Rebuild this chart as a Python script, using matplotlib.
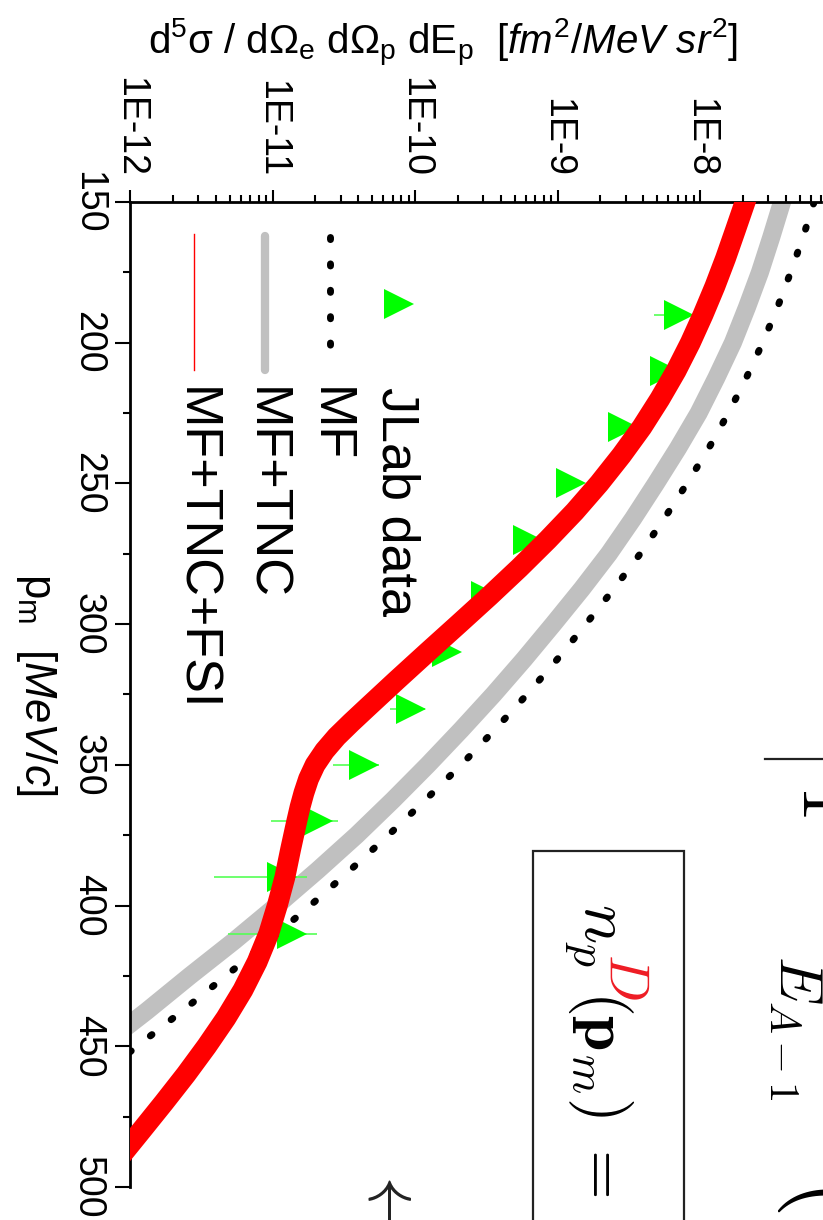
import numpy as np
import matplotlib
matplotlib.use("Agg")
import matplotlib.pyplot as plt
from matplotlib.lines import Line2D
from matplotlib.patches import Rectangle
from matplotlib.ticker import LogLocator, NullFormatter, MultipleLocator

plt.rcParams['font.family'] = ['Liberation Sans', 'DejaVu Sans']
plt.rcParams['mathtext.fontset'] = 'custom'
plt.rcParams['mathtext.rm'] = 'Liberation Sans'
plt.rcParams['mathtext.it'] = 'Liberation Sans:italic'
plt.rcParams['mathtext.bf'] = 'Liberation Sans:bold'

# missing momentum p_m [MeV/c] and cross sections [fm^2/MeV sr^2]
pm_mf = [150, 162.5, 175, 187.5, 200, 212.5, 225, 237.5, 250, 262.5, 275, 287.5, 300,
         312.5, 325, 337.5, 350, 362.5, 375, 387.5, 400, 412.5, 425, 437.5, 450,
         462.5, 475, 500]
xs_mf = [6.31e-8, 5.28e-8, 4.32e-8, 3.49e-8, 2.75e-8, 2.11e-8, 1.58e-8, 1.15e-8,
         8.1e-9, 5.6e-9, 3.8e-9, 2.48e-9, 1.58e-9, 9.95e-10, 6.1e-10, 3.63e-10,
         2.11e-10, 1.18e-10, 6.5e-11, 3.49e-11, 1.84e-11, 9.4e-12, 4.7e-12,
         2.32e-12, 1.12e-12, 5.5e-13, 2.6e-13, 6.3e-14]

pm_tnc = [150, 162.5, 175, 187.5, 200, 212.5, 225, 237.5, 250, 262.5, 275, 287.5, 300,
          312.5, 325, 337.5, 350, 362.5, 375, 387.5, 400, 412.5, 425, 437.5, 450,
          475, 500]
xs_tnc = [3.76e-8, 3.16e-8, 2.63e-8, 2.13e-8, 1.70e-8, 1.30e-8, 9.77e-9, 7.0e-9,
          4.9e-9, 3.39e-9, 2.29e-9, 1.48e-9, 9.33e-10, 5.82e-10, 3.55e-10, 2.11e-10,
          1.23e-10, 7.0e-11, 3.89e-11, 2.07e-11, 1.07e-11, 5.4e-12, 2.63e-12,
          1.31e-12, 6.3e-13, 1.6e-13, 4e-14]

pm_fsi = [150, 160, 170, 180, 190, 200, 210, 220, 230, 240, 250, 260, 270, 280, 290,
          300, 310, 320, 330, 335, 340, 345, 350, 355, 360, 365, 370, 380, 390, 400,
          410, 420, 430, 440, 450, 460, 470, 480, 490, 500]
xs_fsi = [2.07e-8, 1.77e-8, 1.51e-8, 1.27e-8, 1.05e-8, 8.55e-9, 6.79e-9, 5.22e-9,
          3.91e-9, 2.81e-9, 1.96e-9, 1.32e-9, 8.55e-10, 5.40e-10, 3.33e-10, 2.02e-10,
          1.22e-10, 7.41e-11, 4.54e-11, 3.56e-11, 2.82e-11, 2.32e-11, 1.99e-11,
          1.79e-11, 1.66e-11, 1.56e-11, 1.48e-11, 1.34e-11, 1.22e-11, 1.08e-11,
          9.4e-12, 7.8e-12, 6.2e-12, 4.71e-12, 3.45e-12, 2.47e-12, 1.73e-12,
          1.20e-12, 8.3e-13, 5.7e-13]

# JLab data
pm_data = [190, 210, 230, 250, 270, 290, 310, 330, 350, 370, 390, 410]
xs_data = [7.1e-9, 5.7e-9, 2.9e-9, 1.24e-9, 6.2e-10, 3.15e-10, 1.67e-10, 9.4e-11,
           4.4e-11, 2.1e-11, 1.16e-11, 1.37e-11]
xs_lo = [4.75e-9, 5.3e-9, 2.7e-9, 1.15e-9, 5.8e-10, 2.95e-10, 1.55e-10, 6.7e-11,
         2.65e-11, 9.8e-12, 3.9e-12, 4.9e-12]
xs_hi = [8.7e-9, 6.1e-9, 3.1e-9, 1.33e-9, 6.6e-10, 3.35e-10, 1.8e-10, 1.17e-10,
         5.6e-11, 2.9e-11, 1.75e-11, 2.05e-11]

xs_ticks = [1e-12, 1e-11, 1e-10, 1e-9, 1e-8]
xs_ticklabels = ['1E-12', '1E-11', '1E-10', '1E-9', '1E-8']
pm_ticks = [150, 200, 250, 300, 350, 400, 450, 500]
legend_labels = ['JLab data', 'MF', 'MF+TNC', 'MF+TNC+FSI']

W, H = 823, 1220
fig = plt.figure(figsize=(W / 100, H / 100), dpi=100)


def fx(x):
    return x / W


def fy(y):
    return 1 - y / H


ax = fig.add_axes([fx(130), fy(1187), fx(820.5) - fx(130), fy(202) - fy(1187)])
ax.set_xscale('log')
ax.set_xlim(1e-12, 7e-8)
ax.set_ylim(500, 150)

dots = (0, (0.3, 3.5))
ax.plot(xs_tnc, pm_tnc, color='#c0c0c0', lw=13, zorder=2)
ax.errorbar(xs_data, pm_data,
            xerr=[np.array(xs_data) - np.array(xs_lo), np.array(xs_hi) - np.array(xs_data)],
            fmt='>', ms=21.5, color='#00ff00', mew=0, ecolor='#55ff55',
            elinewidth=1.2, capsize=9, capthick=1.2, zorder=3)
ax.plot(xs_mf, pm_mf, color='black', lw=5, linestyle=dots,
        dash_capstyle='round', zorder=4)
ax.plot(xs_fsi, pm_fsi, color='red', lw=15, zorder=5)

# axes: only top (cross section) and left (p_m)
for s in ['right', 'bottom']:
    ax.spines[s].set_visible(False)
for s in ['top', 'left']:
    ax.spines[s].set_linewidth(2)
ax.xaxis.set_ticks_position('top')
ax.set_xticks(xs_ticks)
ax.set_xticklabels(xs_ticklabels, rotation=-90, fontsize=27)
ax.xaxis.set_minor_locator(LogLocator(base=10, subs=np.arange(2, 10)))
ax.xaxis.set_minor_formatter(NullFormatter())
ax.set_yticks(pm_ticks)
ax.set_yticklabels([str(t) for t in pm_ticks], rotation=-90, fontsize=27, va='center')
ax.yaxis.set_minor_locator(MultipleLocator(25))
ax.tick_params(axis='x', which='major', direction='out', length=9, width=1.5, pad=9)
ax.tick_params(axis='x', which='minor', direction='out', length=5, width=1.5)
ax.tick_params(axis='y', which='major', direction='out', length=10.5, width=1.5, pad=7)
ax.tick_params(axis='y', which='minor', direction='out', length=5, width=1.5)

# axis titles
fig.text(fx(443), fy(54),
         r'd$^5$σ / dΩ$_\mathrm{e}$ dΩ$_\mathrm{p}$ dE$_\mathrm{p}$  [$fm^2/MeV\ sr^2$]',
         ha='center', va='baseline', fontsize=29)
fig.text(fx(25), fy(573), r'p$_\mathrm{m}$  [$MeV/c$]', rotation=-90,
         rotation_mode='anchor', ha='left', va='baseline', fontsize=31.5)

# legend (rotated, drawn by hand)
fig.add_artist(Line2D([fx(399)], [fy(304)], marker='>', ms=21.5, color='#00ff00', mew=0))
fig.add_artist(Line2D([fx(330), fx(330)], [fy(237), fy(366)], color='black', lw=5,
                      linestyle=dots, dash_capstyle='round'))
fig.add_artist(Line2D([fx(265), fx(265)], [fy(236), fy(370)], color='#c0c0c0', lw=6,
                      solid_capstyle='round'))
fig.add_artist(Line2D([fx(194), fx(194)], [fy(234), fy(370)], color='red', lw=1))
for xc, lab in zip([396, 329, 265, 195], legend_labels):
    fig.text(fx(xc), fy(387), lab, rotation=-90, ha='center', va='top', fontsize=37.5)

# fragments of the neighbouring page
fig.add_artist(Rectangle((fx(533), fy(1240)), fx(684) - fx(533), fy(851) - fy(1240),
                         transform=fig.transFigure, fill=False, lw=1.6, ec='#222222'))
math_kw = dict(rotation=-90, rotation_mode='anchor', ha='left', va='baseline',
               math_fontfamily='cm')
fig.text(fx(584), fy(903), r'$n_p$', fontsize=47, **math_kw)
fig.text(fx(609), fy(953), r'$D$', fontsize=40, color='#ee1c24', **math_kw)
fig.text(fx(584), fy(990), r'$(\mathbf{p}_m)\;=\;\sum$', fontsize=46, **math_kw)
fig.text(fx(779), fy(955), r'$E_{A-1}$', fontsize=44, **math_kw)
fig.text(fx(803), fy(783), r'$1$', fontsize=54, **math_kw)
fig.add_artist(Line2D([fx(765), fx(823)], [fy(759), fy(759)], color='#222222', lw=1.6))
fig.text(fx(802), fy(1178), r'$($', fontsize=70, **math_kw)
fig.text(fx(390), fy(1160), r'$\leftarrow$', rotation=-90, rotation_mode='anchor',
         ha='left', va='center', fontsize=58, math_fontfamily='cm', color='#222222')

fig.savefig('out.png', dpi=100)
